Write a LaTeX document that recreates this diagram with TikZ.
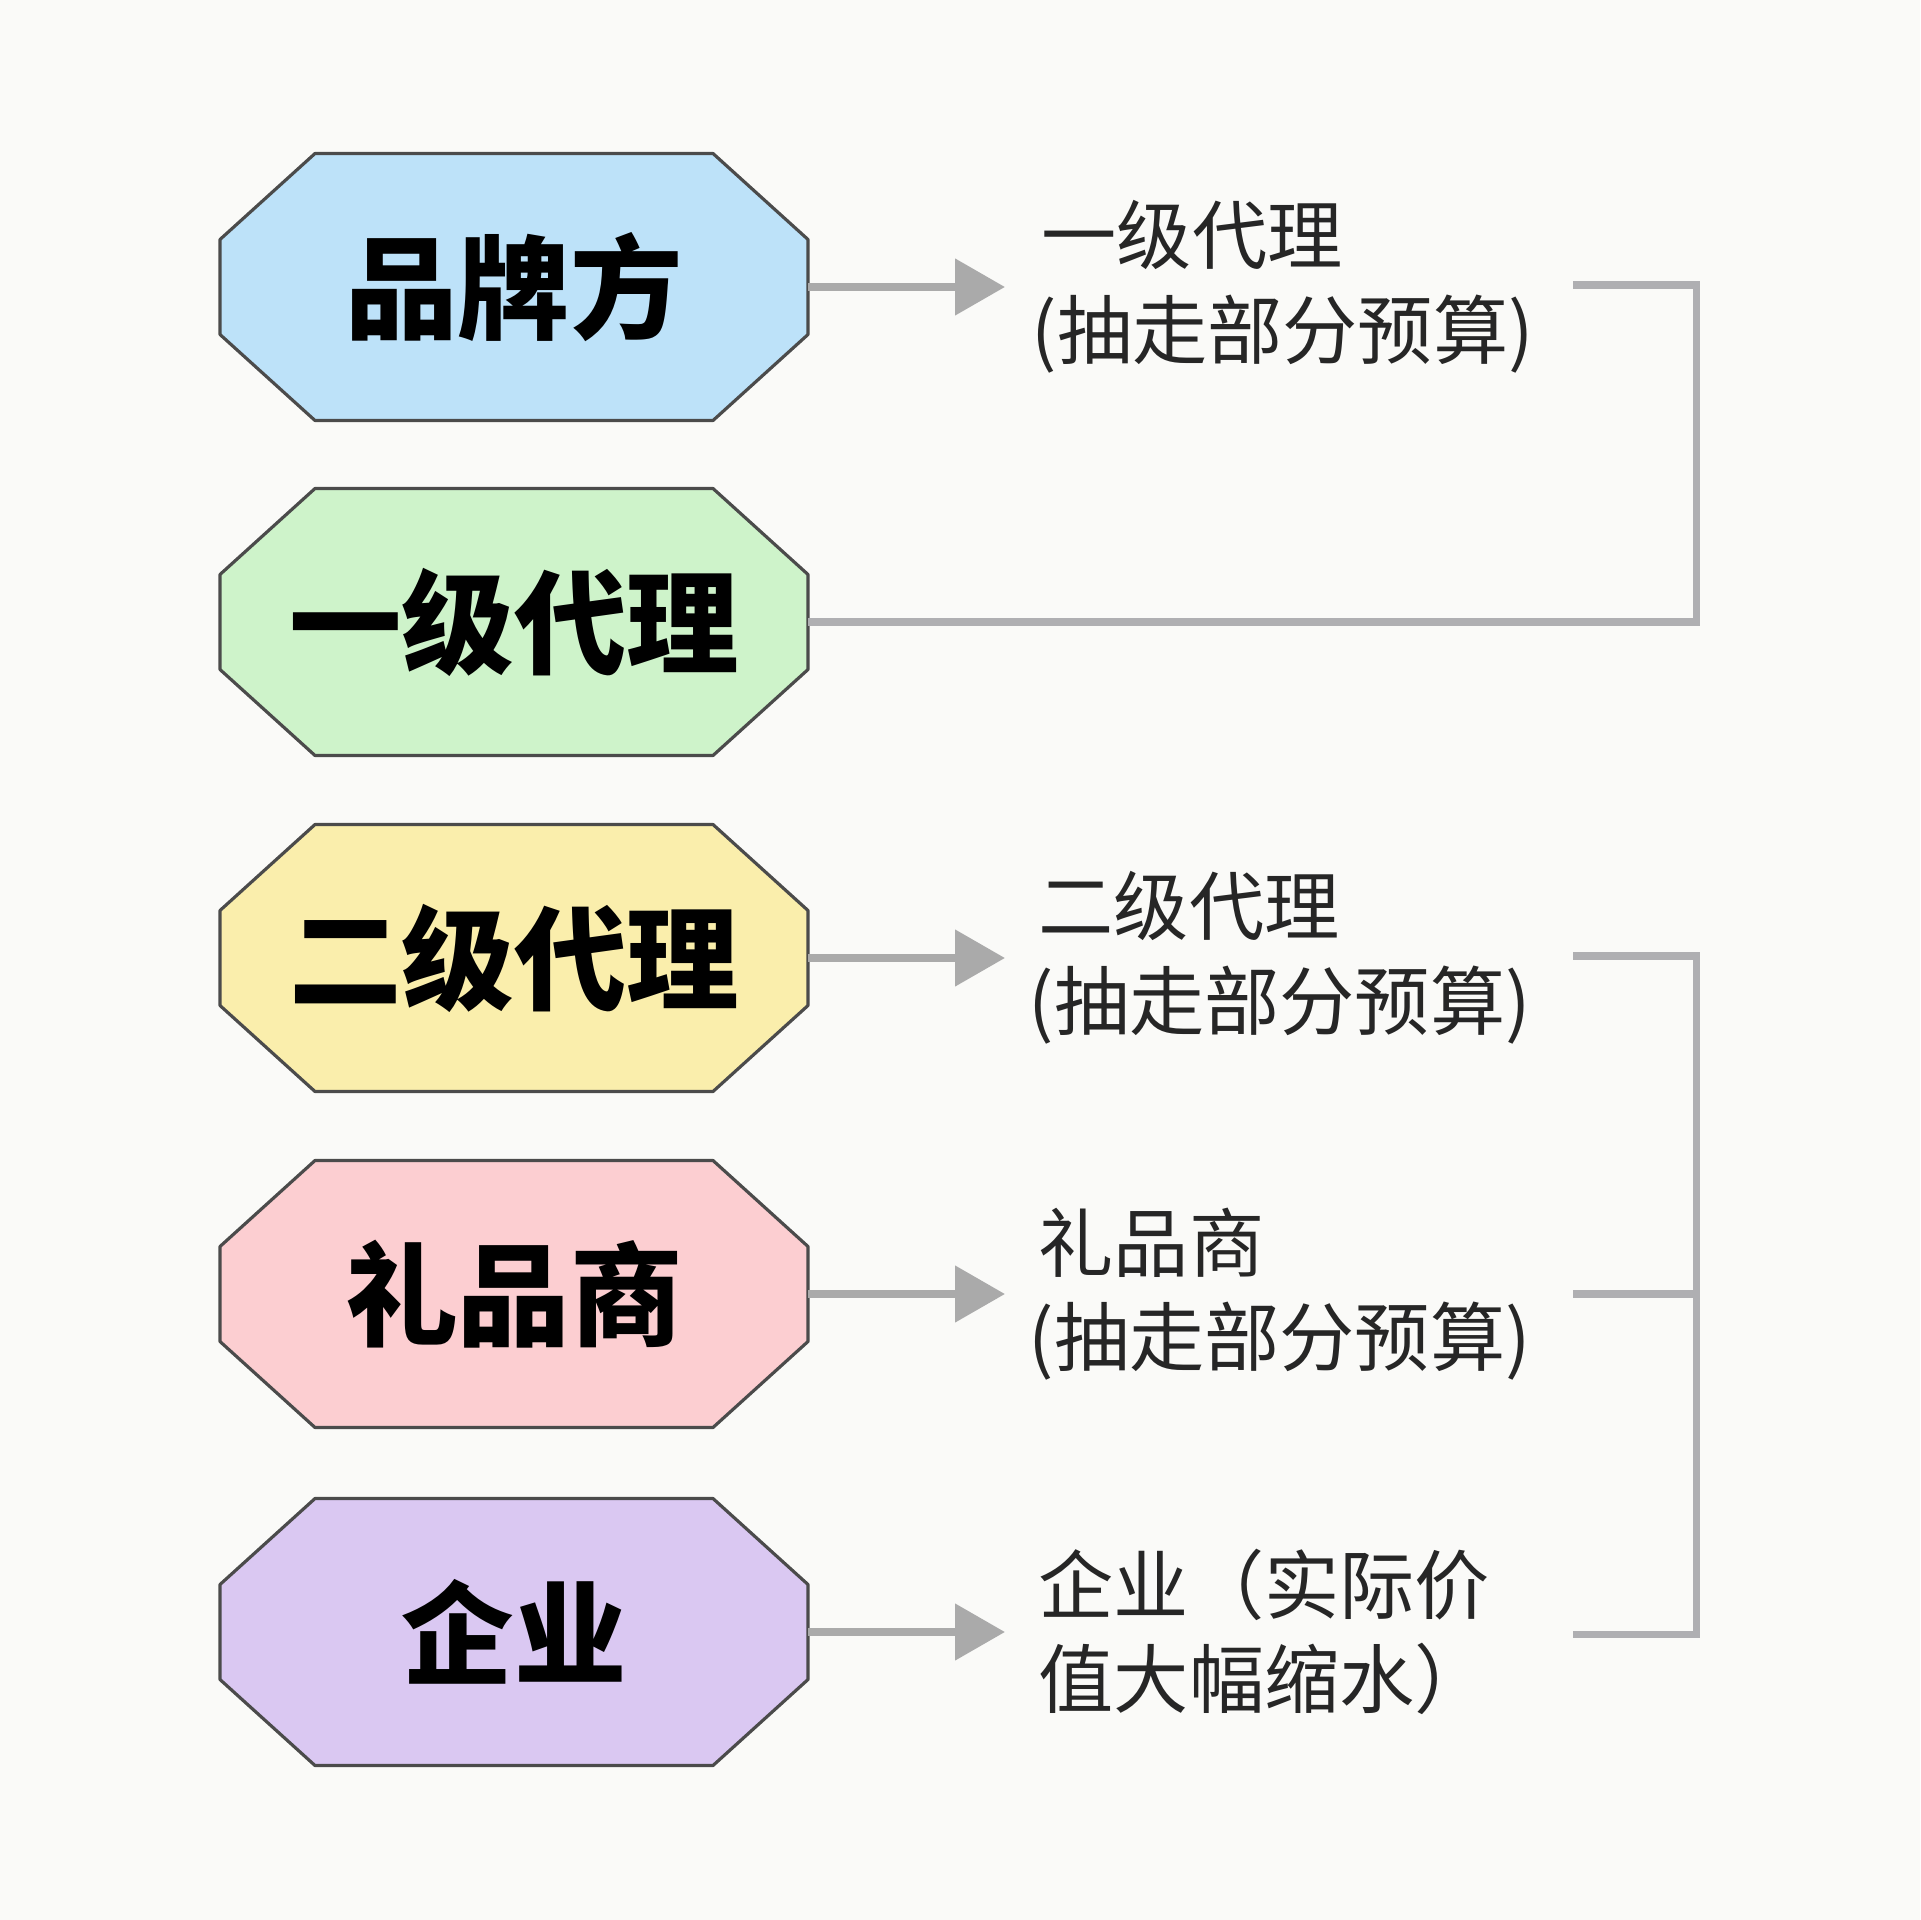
\documentclass[tikz,border=0pt]{standalone}
\usepackage{fontspec}
\setmainfont{Noto Sans CJK SC}
\usetikzlibrary{arrows.meta}
\pgfdeclarelayer{bg}
\pgfsetlayers{bg,main}
\definecolor{bgpaper}{RGB}{250,250,248}
\definecolor{fillblue}{RGB}{189,226,249}
\definecolor{fillgreen}{RGB}{206,243,202}
\definecolor{fillyellow}{RGB}{250,238,172}
\definecolor{fillpink}{RGB}{252,206,209}
\definecolor{fillpurple}{RGB}{218,200,242}
\definecolor{octline}{RGB}{75,75,75}
\definecolor{labtext}{RGB}{38,38,38}
\definecolor{arrgray}{RGB}{170,170,170}
\definecolor{brkgray}{RGB}{175,175,178}

\begin{document}
\begin{tikzpicture}[
		oct/.style={rectangle, minimum width=5.88cm, minimum height=2.67cm, inner sep=0pt, outer sep=0pt,
			font=\fontsize{32}{38}\selectfont\bfseries},
		octedge/.style={draw=octline, line width=0.9pt, line join=round},
		lab/.style={anchor=west, align=left, inner sep=0pt, text=labtext, font=\fontsize{21.4}{26.9}\selectfont},
		arr/.style={draw=arrgray, line width=2.3pt, -{Triangle[length=5mm,width=5.5mm]}},
		brk/.style={draw=brkgray, line width=2pt}]
		\useasboundingbox (0,0) rectangle (19.2,-19.2);
		% left column
		\node[oct] (b1) at (5.14,-2.87) {品牌方};
		\node[oct] (b2) at (5.14,-6.22) {一级代理};
		\node[oct] (b3) at (5.14,-9.58) {二级代理};
		\node[oct] (b4) at (5.14,-12.94) {礼品商};
		\node[oct] (b5) at (5.14,-16.32) {企业};
		\begin{pgfonlayer}{bg}
			\fill[bgpaper] (0,0) rectangle (19.2,-19.2);
			\foreach \i/\c in {1/fillblue,2/fillgreen,3/fillyellow,4/fillpink,5/fillpurple}{
				\filldraw[octedge, fill=\c] ([xshift=0.95cm]b\i.north west) -- ([xshift=-0.95cm]b\i.north east)
					-- ([yshift=-0.86cm]b\i.north east) -- ([yshift=0.86cm]b\i.south east)
					-- ([xshift=-0.95cm]b\i.south east) -- ([xshift=0.95cm]b\i.south west)
					-- ([yshift=0.86cm]b\i.south west) -- ([yshift=-0.86cm]b\i.north west) -- cycle;
			}
		\end{pgfonlayer}
		% notes
		\node[lab] (l1) at (10.31,-2.87) {\hspace*{0.1cm}一级代理\\(抽走部分预算)};
		\node[lab] (l3) at (10.28,-9.58) {\hspace*{0.1cm}二级代理\\(抽走部分预算)};
		\node[lab] (l4) at (10.28,-12.94) {\hspace*{0.1cm}礼品商\\(抽走部分预算)};
		\node[lab] (l5) at (10.38,-16.32) {企业（实际价\\值大幅缩水）};
		\foreach \i/\s in {1/0.26,3/0.23,4/0.23,5/0.33}{
			\draw[arr, shorten >=\s cm] (b\i.east) -- (l\i.west);
		}
		% brackets
		\coordinate (k1) at (15.73,-2.85);
		\draw[brk] (k1) -- (16.96,-2.85) |- (b2.east);
		\coordinate (k3) at (15.73,-9.56);
		\coordinate (k4) at (15.73,-12.94);
		\coordinate (k5) at (15.73,-16.34);
		\draw[brk] (k3) -- (16.96,-9.56) -- (16.96,-16.34) -- (k5);
		\draw[brk] (k4) -- (16.96,-12.94);
	\end{tikzpicture}
\end{document}
